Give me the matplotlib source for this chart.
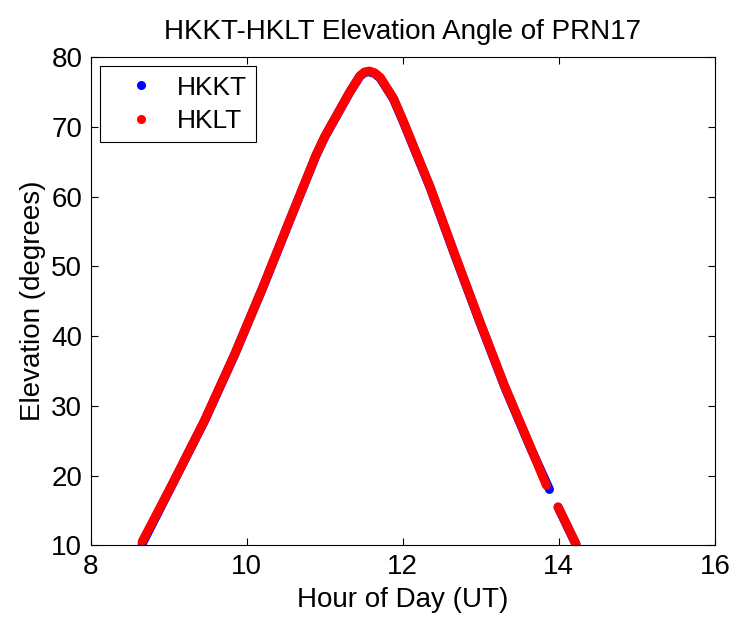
import matplotlib
matplotlib.use("Agg")
import matplotlib.pyplot as plt
from matplotlib.lines import Line2D

plt.rcParams['font.family'] = ['Liberation Sans', 'DejaVu Sans']

# HKLT (red) readings: hour of day (UT), elevation (deg)
hklt_hour_a = [8.66, 9.03, 9.46, 9.85, 10.21, 10.55, 10.89, 11.00, 11.10, 11.20,
               11.32, 11.45, 11.51, 11.57, 11.64, 11.71, 11.88, 12.00, 12.35,
               12.66, 12.98, 13.31, 13.64, 13.84]
hklt_elev_a = [10.5, 18.4, 27.9, 37.5, 47.1, 56.6, 66.0, 68.6, 70.6, 72.6,
               75.0, 77.3, 77.85, 78.0, 77.75, 77.1, 74.1, 71.0, 61.4,
               51.9, 42.3, 32.7, 24.0, 18.6]
hklt_hour_b = [13.99, 14.22]
hklt_elev_b = [15.5, 10.2]

# HKKT (blue) readings
hkkt_hour_a = [8.66, 9.03, 9.46, 9.85, 10.21, 10.55, 10.89, 11.00, 11.10, 11.20,
               11.32, 11.45, 11.51, 11.57, 11.64, 11.71, 11.88, 12.00, 12.35,
               12.66, 12.98, 13.31, 13.64, 13.88]
hkkt_elev_a = [10.2, 18.35, 27.85, 37.45, 47.05, 56.55, 65.95, 68.55, 70.55, 72.55,
               74.95, 77.25, 77.8, 77.9, 77.65, 77.0, 74.0, 70.9, 61.3,
               51.8, 42.2, 32.6, 23.9, 18.0]
hkkt_hour_b = [13.99, 14.22]
hkkt_elev_b = [15.45, 10.1]

title = "HKKT-HKLT Elevation Angle of PRN17"
xlabel = "Hour of Day (UT)"
ylabel = "Elevation (degrees)"
xticks = [8, 10, 12, 14, 16]
yticks = [10, 20, 30, 40, 50, 60, 70, 80]

fig = plt.figure(figsize=(7.31, 6.21), dpi=100)
ax = fig.add_axes([0.124, 0.122, 0.854, 0.786])

lw = 6.5
for hx, ey in [(hkkt_hour_a, hkkt_elev_a), (hkkt_hour_b, hkkt_elev_b)]:
    ax.plot(hx, ey, '-', color='blue', lw=lw, solid_capstyle='round',
            solid_joinstyle='round')
for hx, ey in [(hklt_hour_a, hklt_elev_a), (hklt_hour_b, hklt_elev_b)]:
    ax.plot(hx, ey, '-', color='red', lw=lw, solid_capstyle='round',
            solid_joinstyle='round')

ax.set_xlim(8, 16)
ax.set_ylim(10, 80)
ax.set_xticks(xticks)
ax.set_yticks(yticks)
ax.tick_params(direction='in', top=True, right=True, labelsize=20,
               length=5, width=0.8, pad=6)
for s in ax.spines.values():
    s.set_linewidth(0.8)

ax.set_title(title, fontsize=20, pad=13)
ax.set_xlabel(xlabel, fontsize=20, labelpad=5)
ax.set_ylabel(ylabel, fontsize=20, labelpad=4)

handles = [Line2D([], [], ls='none', marker='.', color='blue', markersize=11),
           Line2D([], [], ls='none', marker='.', color='red', markersize=11)]
leg = ax.legend(handles, ['HKKT', 'HKLT'], loc='upper left', fontsize=19,
                fancybox=False, edgecolor='black', framealpha=1,
                borderaxespad=0.35, handlelength=2.4, handletextpad=0.15,
                borderpad=0.35, labelspacing=0.35)
leg.get_frame().set_linewidth(0.8)

fig.savefig("out.png", dpi=100)
